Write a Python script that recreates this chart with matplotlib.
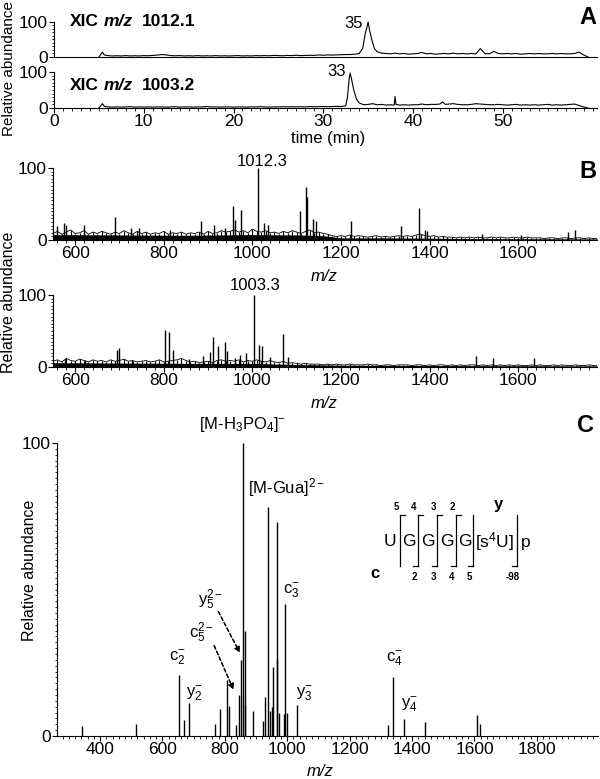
import numpy as np
import matplotlib.pyplot as plt
from matplotlib.ticker import MultipleLocator

plt.rcParams['font.family'] = ['Liberation Sans', 'DejaVu Sans']
plt.rcParams['mathtext.fontset'] = 'custom'
plt.rcParams['mathtext.rm'] = 'Liberation Sans'
plt.rcParams['mathtext.it'] = 'Liberation Sans:italic'
plt.rcParams['mathtext.bf'] = 'Liberation Sans:bold'

W, H = 600, 779

# ---------------- panel A: extracted ion chromatograms ----------------
t_1012 = [5.0, 5.4, 5.6, 6.0, 6.5, 7.0, 7.5, 8.0, 8.5, 9.0, 9.5, 10.0, 10.5, 11.0, 11.5, 12.0,
          12.5, 13.0, 13.5, 14.0, 14.5, 15.0, 15.5, 16.0, 16.5, 17.0, 17.5, 18.0, 18.5, 19.0,
          19.5, 20.0, 20.5, 21.0, 21.5, 22.0, 22.5, 23.0, 23.5, 24.0, 24.5, 25.0, 25.5, 26.0,
          26.5, 27.0, 27.5, 28.0, 28.5, 29.0, 29.5, 30.0, 30.5, 31.0, 31.5, 32.0, 32.5, 33.0,
          33.5, 34.0, 34.4, 34.7, 34.9, 35.0, 35.15, 35.4, 35.7, 36.0, 36.5, 37.0, 37.5, 38.0,
          38.5, 39.0, 39.5, 40.0, 40.5, 41.0, 41.5, 42.0, 42.5, 43.0, 43.5, 44.0, 44.5, 45.0,
          45.5, 46.0, 46.5, 47.0, 47.5, 48.0, 48.5, 49.0, 49.5, 50.0, 50.5, 51.0, 51.5, 52.0,
          52.5, 53.0, 53.5, 54.0, 54.5, 55.0, 55.5, 56.0, 56.5, 57.0, 57.5, 58.0, 58.5, 59.0, 59.5]
i_1012 = [0, 14, 6,
          4, 3, 3.5, 3, 4, 3, 3.5, 3, 4, 3.5, 4.5, 5.5, 7, 6, 4, 3.5, 4, 3, 3.5, 3, 4, 3, 3.5, 3,
          4, 3, 3.5, 3, 3.5, 4, 3, 3.5, 3, 4, 3.5, 4, 3.5, 4.5, 4, 3.5, 4.5, 4, 5, 4, 4.5, 5, 4.5,
          6, 5, 6, 5.5, 6, 6.5, 7, 7, 8, 10,
          25, 70, 88, 100, 78, 50, 24,
          15, 11, 10, 9, 11, 9, 10, 8, 9, 10, 13, 9, 10, 8, 9, 10, 9, 11, 9, 10,
          9, 10, 9, 24, 10, 9, 16, 10, 9, 10, 9, 10, 8, 9, 10, 9, 10, 9, 9, 10,
          9, 10, 9, 9, 10, 14, 6, 0]

t_1003 = [5.0, 5.4, 5.6, 6.0, 6.5, 7.0, 7.5, 8.0, 8.5, 9.0, 9.5, 10.0, 10.5, 11.0, 11.5, 12.0,
          12.5, 13.0, 13.5, 14.0, 14.5, 15.0, 15.5, 16.0, 16.5, 17.0, 17.5, 18.0, 18.5, 19.0,
          19.5, 20.0, 20.5, 21.0, 21.5, 22.0, 22.5, 23.0, 23.5, 24.0, 24.5, 25.0, 25.5, 26.0,
          26.5, 27.0, 27.5, 28.0, 28.5, 29.0, 29.5, 30.0, 30.5, 31.0, 31.5, 32.0, 32.5,
          32.7, 32.9, 33.0, 33.15, 33.4, 33.7, 34.0, 34.5, 35.0, 35.5, 36.0, 36.5, 37.0, 37.5,
          37.9, 38.0, 38.1, 38.5, 39.0, 39.5, 40.0, 40.5, 41.0, 41.5, 42.0, 42.5,
          43.0, 43.3, 43.6, 44.0, 44.5, 45.0, 45.5, 46.0, 46.5, 47.0, 47.5, 48.0, 48.5, 49.0,
          49.5, 50.0, 50.5, 51.0, 51.5, 52.0, 52.5, 53.0, 53.5, 54.0, 54.5, 55.0, 55.5, 56.0,
          56.5, 57.0, 57.5, 58.0, 58.5, 59.0, 59.5]
i_1003 = [0, 12, 5,
          3, 2.5, 3, 2.5, 3, 3.5, 2.5, 3, 2.5, 3, 2.5, 3, 3, 2.5, 3, 3.5, 2.5, 3, 3, 2.5,
          3, 3, 4, 3, 3, 2.5, 3, 3, 2.5, 3, 3, 2.5, 3, 3, 3.5, 3, 2.5, 3, 3, 3.5,
          3, 3.5, 3, 3.5, 3, 4, 3.5, 4, 4, 3.5, 4, 4.5, 4, 6,
          30, 85, 97, 80, 50, 25,
          14, 9, 10, 12, 9, 10, 8, 9,
          8, 32, 10,
          8, 9, 8, 9, 9, 11, 9, 10, 10,
          11, 17, 10,
          11, 12, 10, 9, 9, 10, 12, 11, 10, 9, 9, 10, 9, 8, 9, 10, 8, 9, 8, 9,
          8, 9, 10, 8, 9, 8, 9, 10, 11, 7, 3, 0]

# ---------------- panel B: full MS spectra ----------------
b1_mz = [558, 574, 580, 619, 691, 727, 744, 814, 883, 913, 939, 957, 961, 974, 1013, 1026,
         1035, 1108, 1121, 1123, 1138, 1143, 1222, 1336, 1377, 1390, 1394, 1519, 1606, 1712, 1729]
b1_int = [19, 23, 21, 21, 32, 17, 16, 14, 26, 21, 16, 47, 28, 41, 100, 23,
          21, 40, 74, 60, 29, 26, 26, 20, 45, 14, 12, 9, 7, 11, 14]
b1_noise = [9, 12, 8, 11, 14, 9, 10, 13, 8, 11, 9, 12, 10, 8, 11, 9, 13, 10, 8, 12,
            9, 11, 8, 10, 9, 12, 8, 10, 9, 11, 8, 10, 9, 11, 8, 12, 9, 10, 13, 11,
            12, 14, 11, 13, 10, 15, 12, 11, 13, 10, 11, 9, 12, 10, 13, 11, 9, 12, 14, 10,
            11, 9, 8, 6, 5, 6, 5, 7, 5, 6, 5, 4, 5, 6, 4, 5, 4, 5, 6, 5,
            6, 5, 7, 8, 6, 5, 6, 4, 5, 4, 4, 3, 4, 3, 4, 3, 4, 3, 3, 4,
            3, 4, 3, 3, 4, 3, 3, 4, 3, 3, 3, 2, 3, 3, 2, 3, 3, 2, 3, 3, 2, 3, 2, 2]
b1_floor_mz = [550, 700, 850, 1000, 1100, 1160, 1200, 1300, 1400, 1500, 1780]
b1_floor = [7.5, 7, 6.5, 7.5, 7, 6, 3, 3, 2.5, 2, 1.5]

b2_mz = [576, 623, 694, 700, 729, 802, 811, 822, 858, 889, 905, 911, 922, 939, 943, 961,
         972, 985, 1003, 1015, 1022, 1039, 1069, 1080, 1504, 1543, 1636]
b2_int = [11, 10, 23, 26, 10, 52, 49, 24, 11, 15, 21, 41, 29, 35, 22, 13,
          17, 19, 100, 30, 29, 14, 46, 14, 15, 12, 12]
b2_noise = [8, 10, 7, 12, 9, 8, 11, 9, 7, 10, 8, 9, 7, 10, 8, 9, 11, 8, 9, 7,
            8, 9, 7, 8, 10, 7, 8, 9, 10, 12, 9, 7, 8, 6, 7, 8, 6, 9, 10, 8,
            9, 8, 10, 7, 9, 8, 10, 8, 7, 9, 7, 6, 8, 5, 6, 5, 4, 5, 4, 4,
            4, 3, 4, 3, 4, 3, 3, 4, 3, 3, 3, 4, 3, 3, 2, 3, 3, 2, 3, 3,
            3, 2, 3, 3, 2, 3, 2, 3, 3, 2, 3, 2, 3, 2, 3, 3, 2, 3, 2, 3,
            2, 3, 2, 3, 2, 3, 2, 2, 3, 2, 3, 2, 2, 3, 2, 3, 2, 2, 3, 2, 2, 3, 2, 2]
b2_floor_mz = [550, 700, 850, 1000, 1100, 1200, 1400, 1780]
b2_floor = [6, 5.5, 5, 5, 3.5, 2.5, 2, 1.5]
noise_mz = np.arange(550, 1781, 10)

# ---------------- panel C: MS/MS spectrum ----------------
c_mz = [341, 515, 652, 669, 685, 767, 786, 808, 813, 835, 844, 853, 859, 863, 866, 890,
        921, 929, 939, 945, 951, 955, 966, 967, 972, 988, 994, 998, 1031, 1322, 1338,
        1375, 1440, 1608, 1617]
c_int = [3.3, 4.2, 20.8, 5.6, 11.1, 4.2, 9.2, 19.1, 10.2, 3.7, 13.9, 25.8, 100, 35.7, 10.5, 8.7,
         5.2, 13.3, 78, 8.7, 10, 23.5, 73, 26.4, 7.8, 7.5, 45, 7.8, 10.5, 3.7, 20,
         5.8, 4.7, 7.2, 4.2]

fig = plt.figure(figsize=(6, 7.79), dpi=100)


def px_axes(l, t, r, b):
    return fig.add_axes([l / W, 1 - b / H, (r - l) / W, (b - t) / H])


def ptext(x, y, s, **kw):
    return fig.text(x / W, 1 - y / H, s, **kw)


def style(ax, xmaj, xmin, ymin, xticks=True):
    ax.spines['top'].set_visible(False)
    ax.spines['right'].set_visible(False)
    for s in ['left', 'bottom']:
        ax.spines[s].set_linewidth(0.8)
    ax.set_ylim(0, 100)
    ax.set_yticks([0, 100])
    ax.yaxis.set_minor_locator(MultipleLocator(ymin))
    ax.xaxis.set_major_locator(MultipleLocator(xmaj))
    ax.xaxis.set_minor_locator(MultipleLocator(xmin))
    ax.tick_params(which='major', length=3.5, width=0.8, labelsize=12.5, pad=1)
    ax.tick_params(which='minor', length=1.8, width=0.6)
    if not xticks:
        ax.tick_params(axis='x', which='both', length=0, labelbottom=False)


def multi_text(x, y, parts, size):
    r = fig.canvas.get_renderer()
    for s, st, gap in parts:
        t = ptext(x, y, s, fontsize=size, fontweight='bold', style=st, va='center')
        x += t.get_window_extent(r).width + gap


# A
axA1 = px_axes(54, 22, 597, 57)
axA1.plot(t_1012, i_1012, color='k', lw=0.8, clip_on=False)
style(axA1, 10, 1, 10, xticks=False)
axA1.set_xlim(0, 60.5)

axA2 = px_axes(54, 72, 597, 108)
axA2.plot(t_1003, i_1003, color='k', lw=0.8, clip_on=False)
style(axA2, 10, 1, 10)
axA2.set_xlim(0, 60.5)
axA2.set_xticks([0, 10, 20, 30, 40, 50])

multi_text(70, 22, [('XIC', 'normal', 5), ('m/z', 'italic', 9), ('1012.1', 'normal', 0)], 12.5)
multi_text(70, 86, [('XIC', 'normal', 5), ('m/z', 'italic', 9), ('1003.2', 'normal', 0)], 12.5)
ptext(354, 23, '35', fontsize=12, ha='center', va='center')
ptext(337, 72, '33', fontsize=12, ha='center', va='center')
ptext(328, 139, 'time (min)', fontsize=12, ha='center', va='center')
ptext(9, 69, 'Relative abundance', fontsize=11, rotation=90, ha='center', va='center')
ptext(588, 18, 'A', fontsize=17, fontweight='bold', ha='center', va='center')

# B
axB1 = px_axes(53, 168, 597, 240)
axB1.fill_between(b1_floor_mz, 0, b1_floor, color='k', lw=0)
axB1.vlines(noise_mz, 0, b1_noise, color='k', lw=0.8)
axB1.plot(noise_mz, b1_noise, color='k', lw=0.6)
axB1.vlines(b1_mz, 0, b1_int, color='k', lw=1.0, clip_on=False)
style(axB1, 200, 20, 5)
axB1.set_xlim(550, 1778)

axB2 = px_axes(53, 295, 597, 367)
axB2.fill_between(b2_floor_mz, 0, b2_floor, color='k', lw=0)
axB2.vlines(noise_mz, 0, b2_noise, color='k', lw=0.8)
axB2.plot(noise_mz, b2_noise, color='k', lw=0.6)
axB2.vlines(b2_mz, 0, b2_int, color='k', lw=1.0, clip_on=False)
style(axB2, 200, 20, 5)
axB2.set_xlim(550, 1778)

ptext(262, 162, '1012.3', fontsize=12, ha='center', va='center')
ptext(255, 285, '1003.3', fontsize=12, ha='center', va='center')
ptext(324, 277, 'm/z', fontsize=12, style='italic', ha='center', va='center')
ptext(324, 403, 'm/z', fontsize=12, style='italic', ha='center', va='center')
ptext(9, 302, 'Relative abundance', fontsize=11.5, rotation=90, ha='center', va='center')
ptext(588, 172, 'B', fontsize=17, fontweight='bold', ha='center', va='center')

# C
axC = px_axes(57, 443, 598, 736)
axC.vlines(c_mz, 0, c_int, color='k', lw=1.0, clip_on=False)
style(axC, 200, 20, 2)
axC.set_xlim(262, 1996)

ptext(320, 772, 'm/z', fontsize=12, style='italic', ha='center', va='center')
ptext(30, 570, 'Relative abundance', fontsize=11.5, rotation=90, ha='center', va='center')
ptext(586, 425, 'C', fontsize=17, fontweight='bold', ha='center', va='center')

lab = dict(fontsize=12, ha='center', va='center')
ptext(243, 425, r'[M-H$_3$PO$_4$]$^{-}$', **lab)
ptext(286, 488, r'[M-Gua]$^{2-}$', **lab)
ptext(291, 590, r'c$_{3}^{-}$', **lab)
ptext(211, 600, r'y$_{5}^{2-}$', **lab)
ptext(202, 633, r'c$_{5}^{2-}$', **lab)
ptext(177, 657, r'c$_{2}^{-}$', **lab)
ptext(194, 693, r'y$_{2}^{-}$', **lab)
ptext(304, 693, r'y$_{3}^{-}$', **lab)
ptext(394, 658, r'c$_{4}^{-}$', **lab)
ptext(409, 704, r'y$_{4}^{-}$', **lab)

arr = dict(arrowstyle='-|>', linestyle=(0, (3, 2)), lw=0.9, color='k', mutation_scale=8)
fig.add_artist(plt.annotate('', xy=(241 / W, 1 - 655 / H), xytext=(217 / W, 1 - 609 / H),
                            xycoords='figure fraction', arrowprops=arr))
fig.add_artist(plt.annotate('', xy=(234.5 / W, 1 - 692 / H), xytext=(213 / W, 1 - 643 / H),
                            xycoords='figure fraction', arrowprops=arr))

# sequence inset
seq_x = [390, 409, 428, 447, 465, 495, 526]
seq = ['U', 'G', 'G', 'G', 'G', r'[s$^{4}$U]', 'p']
for x, s in zip(seq_x, seq):
    ptext(x, 542, s, fontsize=12.5, ha='center', va='center')
cut_x = [400, 418, 437, 456, 473, 517]
y_num = ['5', '4', '3', '2', '', '']
c_num = ['', '2', '3', '4', '5', '-98']
for x, yn, cn in zip(cut_x, y_num, c_num):
    fig.add_artist(plt.Line2D([x / W, x / W], [1 - 515 / H, 1 - 566 / H], color='k', lw=0.9))
    if yn:
        fig.add_artist(plt.Line2D([x / W, (x + 5) / W], [1 - 515 / H, 1 - 515 / H], color='k', lw=0.9))
        ptext(x - 4, 507, yn, fontsize=7, fontweight='bold', ha='center', va='center')
    if cn:
        fig.add_artist(plt.Line2D([(x - 5) / W, x / W], [1 - 566 / H, 1 - 566 / H], color='k', lw=0.9))
        ptext(x - 4, 577, cn, fontsize=7, fontweight='bold', ha='center', va='center')
ptext(498, 505, 'y', fontsize=12, fontweight='bold', ha='center', va='center')
ptext(375, 573, 'c', fontsize=12, fontweight='bold', ha='center', va='center')

fig.savefig('out.png', dpi=100)
